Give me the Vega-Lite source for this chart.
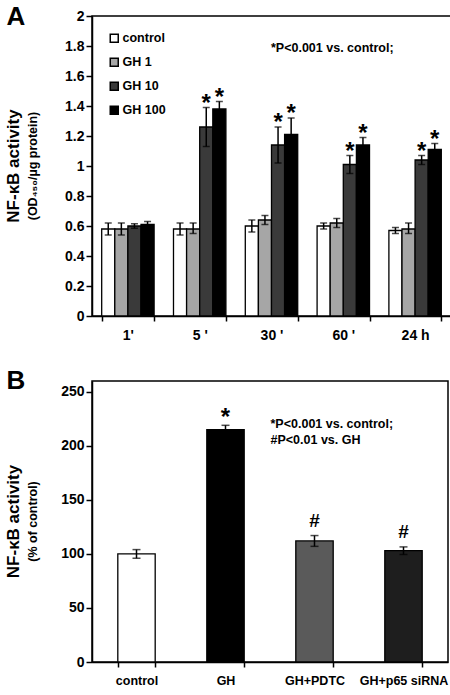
{
  "$schema": "https://vega.github.io/schema/vega-lite/v6.json",
  "padding": {"left": 3, "top": 2, "right": 0, "bottom": 0},
  "spacing": 23,
  "background": "white",
  "resolve": {"scale": {"fill": "independent"}, "legend": {"fill": "independent"}},
  "config": {
    "font": "Liberation Sans",
    "view": {"stroke": "black", "strokeWidth": 1.5},
    "axis": {"domainColor": "black", "domainWidth": 1.5, "tickColor": "black", "tickWidth": 1.5, "labelColor": "black", "labelFont": "Liberation Sans", "labelFontWeight": "bold", "grid": false, "titleColor": "black", "titleFont": "Liberation Sans", "labelOverlap": false},
    "title": {"orient": "left", "anchor": "middle", "frame": "group", "font": "Liberation Sans", "fontSize": 17, "fontWeight": "bold", "subtitleFont": "Liberation Sans", "subtitleFontSize": 12.5, "subtitleFontWeight": "bold", "color": "black", "subtitleColor": "black", "offset": -34, "subtitlePadding": 4}
  },
  "vconcat": [
    {
      "width": 359,
      "height": 300,
      "title": {"text": "NF-κB activity", "subtitle": "(OD₄₅₀/µg protein)"},
      "data": {"values": [
        {"time": "1'", "group": "control", "value": 0.58, "lo": 0.54, "hi": 0.62, "sig": ""},
        {"time": "1'", "group": "GH 1", "value": 0.58, "lo": 0.54, "hi": 0.62, "sig": ""},
        {"time": "1'", "group": "GH 10", "value": 0.60, "lo": 0.585, "hi": 0.615, "sig": ""},
        {"time": "1'", "group": "GH 100", "value": 0.61, "lo": 0.59, "hi": 0.63, "sig": ""},
        {"time": "5 '", "group": "control", "value": 0.58, "lo": 0.54, "hi": 0.62, "sig": ""},
        {"time": "5 '", "group": "GH 1", "value": 0.58, "lo": 0.55, "hi": 0.62, "sig": ""},
        {"time": "5 '", "group": "GH 10", "value": 1.26, "lo": 1.13, "hi": 1.39, "sig": "*"},
        {"time": "5 '", "group": "GH 100", "value": 1.38, "lo": 1.33, "hi": 1.43, "sig": "*"},
        {"time": "30 '", "group": "control", "value": 0.60, "lo": 0.56, "hi": 0.64, "sig": ""},
        {"time": "30 '", "group": "GH 1", "value": 0.64, "lo": 0.61, "hi": 0.67, "sig": ""},
        {"time": "30 '", "group": "GH 10", "value": 1.14, "lo": 1.02, "hi": 1.26, "sig": "*"},
        {"time": "30 '", "group": "GH 100", "value": 1.21, "lo": 1.10, "hi": 1.32, "sig": "*"},
        {"time": "60 '", "group": "control", "value": 0.60, "lo": 0.58, "hi": 0.62, "sig": ""},
        {"time": "60 '", "group": "GH 1", "value": 0.62, "lo": 0.59, "hi": 0.65, "sig": ""},
        {"time": "60 '", "group": "GH 10", "value": 1.01, "lo": 0.95, "hi": 1.07, "sig": "*"},
        {"time": "60 '", "group": "GH 100", "value": 1.14, "lo": 1.09, "hi": 1.19, "sig": "*"},
        {"time": "24 h", "group": "control", "value": 0.57, "lo": 0.55, "hi": 0.59, "sig": ""},
        {"time": "24 h", "group": "GH 1", "value": 0.58, "lo": 0.55, "hi": 0.62, "sig": ""},
        {"time": "24 h", "group": "GH 10", "value": 1.04, "lo": 1.01, "hi": 1.07, "sig": "*"},
        {"time": "24 h", "group": "GH 100", "value": 1.11, "lo": 1.07, "hi": 1.15, "sig": "*"}
      ]},
      "layer": [
        {
          "mark": {"type": "bar", "stroke": "black", "strokeWidth": 1.3},
          "encoding": {
            "x": {"field": "time", "type": "nominal", "sort": ["1'", "5 '", "30 '", "60 '", "24 h"], "scale": {"paddingInner": 0.27, "paddingOuter": 0.135}, "axis": {"title": null, "labelAngle": 0, "tickBand": "extent", "tickSize": 5, "labelFontSize": 14, "labelPadding": 7}},
            "xOffset": {"field": "group", "type": "nominal", "sort": ["control", "GH 1", "GH 10", "GH 100"], "scale": {"paddingInner": 0}},
            "y": {"field": "value", "type": "quantitative", "title": "A", "scale": {"domain": [0, 2]}, "axis": {"titleAngle": 0, "titleX": -86, "titleY": 8, "titleAlign": "left", "titleBaseline": "alphabetic", "titleFontSize": 26, "titleFontWeight": "bold", "values": [0, 0.2, 0.4, 0.6, 0.8, 1, 1.2, 1.4, 1.6, 1.8, 2], "format": "~g", "tickSize": 6, "labelPadding": 2, "labelFontSize": 14, "labelOverlap": false}},
            "fill": {"field": "group", "type": "nominal", "sort": ["control", "GH 1", "GH 10", "GH 100"], "scale": {"domain": ["control", "GH 1", "GH 10", "GH 100"], "range": ["#ffffff", "#a6a6a6", "#3a3a3a", "#000000"]}, "legend": {"title": null, "orient": "top-left", "offset": 16, "symbolType": "square", "symbolSize": 64, "symbolStrokeColor": "black", "symbolStrokeWidth": 1.5, "symbolOpacity": 1, "labelFont": "Liberation Sans", "labelFontSize": 12.5, "labelFontWeight": "bold", "labelColor": "black", "labelOffset": 2, "rowPadding": 9}}
          }
        },
        {
          "mark": {"type": "errorbar", "ticks": {"size": 7, "thickness": 1.5, "color": "black"}, "rule": {"strokeWidth": 1.5, "color": "black"}},
          "encoding": {
            "x": {"field": "time", "type": "nominal", "sort": ["1'", "5 '", "30 '", "60 '", "24 h"]},
            "xOffset": {"field": "group", "type": "nominal", "sort": ["control", "GH 1", "GH 10", "GH 100"]},
            "y": {"field": "lo", "type": "quantitative", "title": "A", "axis": {"titleAngle": 0, "titleX": -86, "titleY": 8, "titleAlign": "left", "titleBaseline": "alphabetic", "titleFontSize": 26, "titleFontWeight": "bold", "values": [0, 0.2, 0.4, 0.6, 0.8, 1, 1.2, 1.4, 1.6, 1.8, 2], "format": "~g", "tickSize": 6, "labelPadding": 2, "labelFontSize": 14, "labelOverlap": false}},
            "y2": {"field": "hi"}
          }
        },
        {
          "mark": {"type": "text", "fontSize": 24, "fontWeight": "bold", "baseline": "alphabetic", "dy": 3, "color": "black"},
          "encoding": {
            "x": {"field": "time", "type": "nominal", "sort": ["1'", "5 '", "30 '", "60 '", "24 h"]},
            "xOffset": {"field": "group", "type": "nominal", "sort": ["control", "GH 1", "GH 10", "GH 100"]},
            "y": {"field": "hi", "type": "quantitative", "title": "A", "axis": {"titleAngle": 0, "titleX": -86, "titleY": 8, "titleAlign": "left", "titleBaseline": "alphabetic", "titleFontSize": 26, "titleFontWeight": "bold", "values": [0, 0.2, 0.4, 0.6, 0.8, 1, 1.2, 1.4, 1.6, 1.8, 2], "format": "~g", "tickSize": 6, "labelPadding": 2, "labelFontSize": 14, "labelOverlap": false}},
            "text": {"field": "sig"}
          }
        },
        {
          "data": {"values": [{"note": "*P<0.001 vs. control;"}]},
          "mark": {"type": "text", "fontSize": 12.5, "fontWeight": "bold", "align": "center", "baseline": "middle", "dx": -11, "color": "black"},
          "encoding": {
            "x": {"datum": "60 '"},
            "y": {"datum": 1.79, "title": "A", "axis": {"titleAngle": 0, "titleX": -86, "titleY": 8, "titleAlign": "left", "titleBaseline": "alphabetic", "titleFontSize": 26, "titleFontWeight": "bold", "values": [0, 0.2, 0.4, 0.6, 0.8, 1, 1.2, 1.4, 1.6, 1.8, 2], "format": "~g", "tickSize": 6, "labelPadding": 2, "labelFontSize": 14, "labelOverlap": false}},
            "text": {"field": "note"}
          }
        }
      ]
    },
    {
      "width": 356,
      "height": 281,
      "title": {"text": "NF-κB activity", "subtitle": "(% of control)"},
      "data": {"values": [
        {"cond": "control", "value": 100, "lo": 96, "hi": 104, "sig": ""},
        {"cond": "GH", "value": 215, "lo": 211, "hi": 219, "sig": "*"},
        {"cond": "GH+PDTC", "value": 112, "lo": 107, "hi": 117, "sig": "#"},
        {"cond": "GH+p65 siRNA", "value": 103, "lo": 99.5, "hi": 106.5, "sig": "#"}
      ]},
      "layer": [
        {
          "mark": {"type": "bar", "stroke": "black", "strokeWidth": 1.3},
          "encoding": {
            "x": {"field": "cond", "type": "nominal", "sort": ["control", "GH", "GH+PDTC", "GH+p65 siRNA"], "scale": {"paddingInner": 0.58, "paddingOuter": 0.29}, "axis": {"title": null, "labelAngle": 0, "tickBand": "extent", "tickSize": 5, "labelFontSize": 12.5, "labelPadding": 7}},
            "y": {"field": "value", "type": "quantitative", "title": "B", "scale": {"domain": [0, 250]}, "axis": {"titleAngle": 0, "titleX": -86, "titleY": 7, "titleAlign": "left", "titleBaseline": "alphabetic", "titleFontSize": 26, "titleFontWeight": "bold", "values": [0, 50, 100, 150, 200, 250], "tickSize": 6, "labelPadding": 2, "labelFontSize": 14}},
            "fill": {"field": "cond", "type": "nominal", "scale": {"domain": ["control", "GH", "GH+PDTC", "GH+p65 siRNA"], "range": ["#ffffff", "#000000", "#5a5a5a", "#1e1e1e"]}, "legend": null}
          }
        },
        {
          "mark": {"type": "errorbar", "ticks": {"size": 8, "thickness": 1.5, "color": "black"}, "rule": {"strokeWidth": 1.5, "color": "black"}},
          "encoding": {
            "x": {"field": "cond", "type": "nominal", "sort": ["control", "GH", "GH+PDTC", "GH+p65 siRNA"]},
            "y": {"field": "lo", "type": "quantitative", "title": "B"},
            "y2": {"field": "hi"}
          }
        },
        {
          "transform": [{"filter": "datum.sig == '*'"}],
          "mark": {"type": "text", "fontSize": 24, "fontWeight": "bold", "baseline": "alphabetic", "dy": 0, "color": "black"},
          "encoding": {
            "x": {"field": "cond", "type": "nominal", "sort": ["control", "GH", "GH+PDTC", "GH+p65 siRNA"]},
            "y": {"field": "hi", "type": "quantitative", "title": "B"},
            "text": {"field": "sig"}
          }
        },
        {
          "transform": [{"filter": "datum.sig == '#'"}],
          "mark": {"type": "text", "fontSize": 19, "fontWeight": "bold", "baseline": "alphabetic", "dy": -9, "color": "black"},
          "encoding": {
            "x": {"field": "cond", "type": "nominal", "sort": ["control", "GH", "GH+PDTC", "GH+p65 siRNA"]},
            "y": {"field": "hi", "type": "quantitative", "title": "B"},
            "text": {"field": "sig"}
          }
        },
        {
          "data": {"values": [{"note": "*P<0.001 vs. control;", "v": 220}, {"note": "#P<0.01 vs. GH", "v": 205}]},
          "mark": {"type": "text", "fontSize": 12.5, "fontWeight": "bold", "align": "left", "baseline": "middle", "dx": -44, "color": "black"},
          "encoding": {
            "x": {"datum": "GH+PDTC"},
            "y": {"field": "v", "type": "quantitative", "title": "B"},
            "text": {"field": "note"}
          }
        }
      ]
    }
  ]
}
